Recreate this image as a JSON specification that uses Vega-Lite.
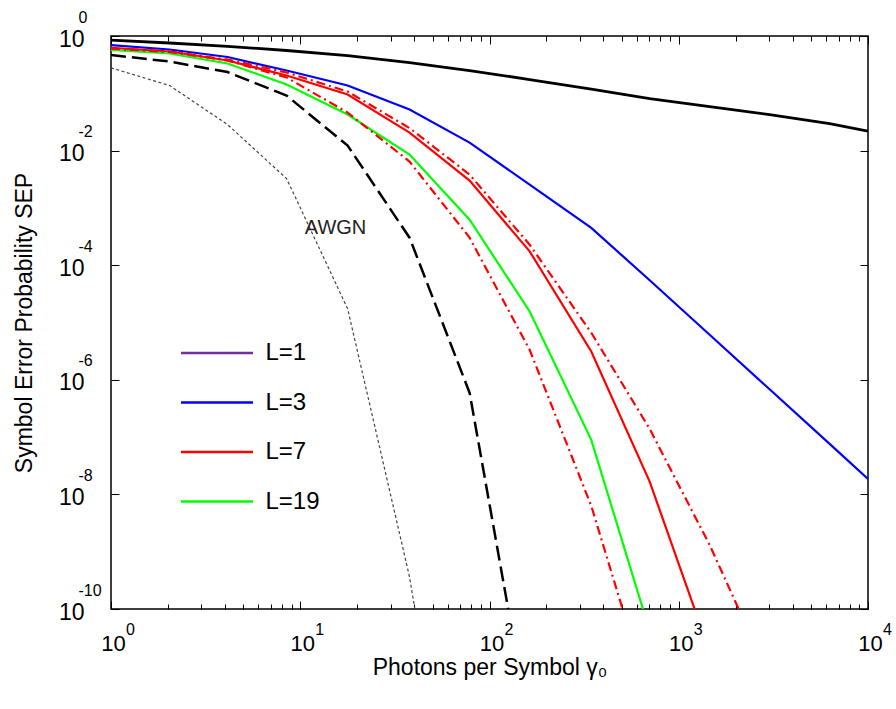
{
  "$schema": "https://vega.github.io/schema/vega-lite/v6.json",
  "width": 757,
  "height": 573,
  "autosize": "none",
  "padding": {"left": 111, "top": 36, "right": 28, "bottom": 100},
  "background": "white",
  "config": {
    "view": {"stroke": "#000", "strokeWidth": 1.5},
    "font": "Liberation Sans",
    "axis": {"grid": false, "domain": false, "tickColor": "#000", "tickWidth": 1, "labelColor": "#000", "labelFont": "Liberation Sans", "titleFont": "Liberation Sans", "titleFontWeight": "normal", "titleColor": "#000", "labelOverlap": false, "labelFlush": false, "labelBound": false}
  },
  "data": {"values": [
    {"curve": "L=1", "x": 1, "y": 0.845}, {"curve": "L=1", "x": 2.04, "y": 0.7545}, {"curve": "L=1", "x": 4.13, "y": 0.661}, {"curve": "L=1", "x": 8.47, "y": 0.558}, {"curve": "L=1", "x": 17.8, "y": 0.4564}, {"curve": "L=1", "x": 37.8, "y": 0.3444}, {"curve": "L=1", "x": 78.5, "y": 0.2496}, {"curve": "L=1", "x": 163, "y": 0.1739}, {"curve": "L=1", "x": 345, "y": 0.1187}, {"curve": "L=1", "x": 702, "y": 0.0809}, {"curve": "L=1", "x": 1456, "y": 0.0587}, {"curve": "L=1", "x": 3020, "y": 0.04254}, {"curve": "L=1", "x": 6270, "y": 0.02962}, {"curve": "L=1", "x": 10000, "y": 0.02191},
    {"curve": "L=3", "x": 1, "y": 0.6908}, {"curve": "L=3", "x": 2.04, "y": 0.5808}, {"curve": "L=3", "x": 4.13, "y": 0.4297}, {"curve": "L=3", "x": 8.47, "y": 0.2496}, {"curve": "L=3", "x": 17.8, "y": 0.1366}, {"curve": "L=3", "x": 37.8, "y": 0.05203}, {"curve": "L=3", "x": 78.5, "y": 0.01379}, {"curve": "L=3", "x": 163, "y": 0.002547}, {"curve": "L=3", "x": 345, "y": 0.0004466}, {"curve": "L=3", "x": 702, "y": 0.0000547}, {"curve": "L=3", "x": 1456, "y": 0.00000611}, {"curve": "L=3", "x": 3020, "y": 6.83e-7}, {"curve": "L=3", "x": 6270, "y": 7.62e-8}, {"curve": "L=3", "x": 10000, "y": 1.866e-8},
    {"curve": "L=7", "x": 1, "y": 0.6221}, {"curve": "L=7", "x": 2.04, "y": 0.5362}, {"curve": "L=7", "x": 4.13, "y": 0.3733}, {"curve": "L=7", "x": 8.47, "y": 0.2042}, {"curve": "L=7", "x": 17.8, "y": 0.0951}, {"curve": "L=7", "x": 37.8, "y": 0.02063}, {"curve": "L=7", "x": 78.5, "y": 0.002992}, {"curve": "L=7", "x": 163, "y": 0.0001742}, {"curve": "L=7", "x": 345, "y": 0.00000312}, {"curve": "L=7", "x": 702, "y": 1.673e-8}, {"curve": "L=7", "x": 1456, "y": 1.81e-11},
    {"curve": "L=7 dash-dot A", "x": 1, "y": 0.6046}, {"curve": "L=7 dash-dot A", "x": 2.04, "y": 0.536}, {"curve": "L=7 dash-dot A", "x": 4.13, "y": 0.3886}, {"curve": "L=7 dash-dot A", "x": 8.47, "y": 0.2304}, {"curve": "L=7 dash-dot A", "x": 17.8, "y": 0.1073}, {"curve": "L=7 dash-dot A", "x": 37.8, "y": 0.02472}, {"curve": "L=7 dash-dot A", "x": 78.5, "y": 0.003808}, {"curve": "L=7 dash-dot A", "x": 163, "y": 0.0002281}, {"curve": "L=7 dash-dot A", "x": 345, "y": 0.00000662}, {"curve": "L=7 dash-dot A", "x": 702, "y": 1.393e-7}, {"curve": "L=7 dash-dot A", "x": 1456, "y": 1.312e-9}, {"curve": "L=7 dash-dot A", "x": 3020, "y": 6.49e-12},
    {"curve": "L=7 dash-dot B", "x": 1, "y": 0.6046}, {"curve": "L=7 dash-dot B", "x": 2.04, "y": 0.5255}, {"curve": "L=7 dash-dot B", "x": 4.13, "y": 0.3733}, {"curve": "L=7 dash-dot B", "x": 8.47, "y": 0.1884}, {"curve": "L=7 dash-dot B", "x": 17.8, "y": 0.04611}, {"curve": "L=7 dash-dot B", "x": 37.8, "y": 0.006425}, {"curve": "L=7 dash-dot B", "x": 78.5, "y": 0.0003022}, {"curve": "L=7 dash-dot B", "x": 163, "y": 0.00000334}, {"curve": "L=7 dash-dot B", "x": 345, "y": 6.29e-9}, {"curve": "L=7 dash-dot B", "x": 702, "y": 2.79e-12},
    {"curve": "L=19", "x": 1, "y": 0.5692}, {"curve": "L=19", "x": 2.04, "y": 0.4946}, {"curve": "L=19", "x": 4.13, "y": 0.3309}, {"curve": "L=19", "x": 8.47, "y": 0.1422}, {"curve": "L=19", "x": 17.8, "y": 0.04254}, {"curve": "L=19", "x": 37.8, "y": 0.008515}, {"curve": "L=19", "x": 78.5, "y": 0.000623}, {"curve": "L=19", "x": 163, "y": 0.0000156}, {"curve": "L=19", "x": 345, "y": 8.95e-8}, {"curve": "L=19", "x": 702, "y": 4.13e-11},
    {"curve": "dashed", "x": 1, "y": 0.4657}, {"curve": "dashed", "x": 2.04, "y": 0.3585}, {"curve": "dashed", "x": 4.13, "y": 0.235}, {"curve": "dashed", "x": 8.47, "y": 0.09134}, {"curve": "dashed", "x": 17.8, "y": 0.01223}, {"curve": "dashed", "x": 37.8, "y": 0.0003022}, {"curve": "dashed", "x": 78.5, "y": 5.93e-7}, {"curve": "dashed", "x": 163, "y": 8e-13},
    {"curve": "AWGN", "x": 1, "y": 0.2782}, {"curve": "AWGN", "x": 2.04, "y": 0.1366}, {"curve": "AWGN", "x": 4.13, "y": 0.02845}, {"curve": "AWGN", "x": 8.47, "y": 0.003243}, {"curve": "AWGN", "x": 17.8, "y": 0.00001738}, {"curve": "AWGN", "x": 37.8, "y": 3.62e-10}, {"curve": "AWGN", "x": 78.5, "y": 1.7e-16}
  ]},
  "layer": [
    {
      "transform": [{"filter": {"field": "curve", "oneOf": ["L=1", "L=3", "L=7", "L=19"]}}],
      "mark": {"type": "line", "clip": true},
      "encoding": {
        "x": {"field": "x", "type": "quantitative", "scale": {"type": "log", "domain": [1, 10000], "nice": false},
          "axis": {"orient": "bottom", "values": [1,2,3,4,5,6,7,8,9,10,20,30,40,50,60,70,80,90,100,200,300,400,500,600,700,800,900,1000,2000,3000,4000,5000,6000,7000,8000,9000,10000],
            "labels": false, "tickSize": {"condition": {"test": "indexof([1,10,100,1000,10000], datum.value) >= 0", "value": -8}, "value": -5},
            "title": "Photons per Symbol γ₀", "titleFontSize": 23, "titleY": 65, "titleBaseline": "alphabetic"}},
        "y": {"field": "y", "type": "quantitative", "scale": {"type": "log", "domain": [1e-10, 1], "nice": false},
          "axis": {"orient": "left", "values": [1e-10, 1e-8, 1e-6, 1e-4, 1e-2, 1], "labels": false, "tickSize": -8,
            "title": "Symbol Error Probability SEP", "titleFontSize": 23, "titleX": -80, "titleBaseline": "alphabetic"}},
        "stroke": {"field": "curve", "type": "nominal",
          "scale": {"domain": ["L=1", "L=3", "L=7", "L=19", "L=7 dash-dot A", "L=7 dash-dot B", "dashed", "AWGN"], "range": ["#000000", "#0000ff", "#ff0000", "#00ff00", "#ff0000", "#ff0000", "#000000", "#444444"]},
          "legend": null},
        "strokeWidth": {"condition": {"test": "datum.curve == 'L=1'", "value": 2.8}, "value": 2.2}
      }
    },
    {
      "transform": [{"filter": {"field": "curve", "oneOf": ["L=7 dash-dot A", "L=7 dash-dot B"]}}],
      "mark": {"type": "line", "stroke": "#ff0000", "strokeWidth": 2.2, "strokeDash": [9, 4, 2, 4], "clip": true},
      "encoding": {
        "x": {"field": "x", "type": "quantitative", "scale": {"type": "log", "domain": [1, 10000], "nice": false},
          "axis": {"orient": "bottom", "values": [1, 10, 100, 1000, 10000], "ticks": false, "labelExpr": "'10'", "labelFontSize": 22, "labelBaseline": "middle", "labelPadding": 34, "labelOffset": 2, "title": null}},
        "y": {"field": "y", "type": "quantitative", "scale": {"type": "log", "domain": [1e-10, 1], "nice": false},
          "axis": {"orient": "left", "values": [1e-10, 1e-8, 1e-6, 1e-4, 1e-2, 1], "ticks": false, "labelExpr": "'10'", "labelFontSize": 23, "labelAlign": "right", "labelBaseline": "middle", "labelPadding": 27, "labelOffset": 3, "title": null}},
        "detail": {"field": "curve", "type": "nominal"}
      }
    },
    {
      "transform": [{"filter": {"field": "curve", "equal": "dashed"}}],
      "mark": {"type": "line", "stroke": "#000000", "strokeWidth": 2.5, "strokeDash": [15, 6], "clip": true},
      "encoding": {
        "x": {"field": "x", "type": "quantitative", "scale": {"type": "log", "domain": [1, 10000], "nice": false},
          "axis": {"orient": "bottom", "values": [1, 10, 100, 1000, 10000], "ticks": false, "labelExpr": "'' + round(log(datum.value) / LN10)", "labelFontSize": 16, "labelBaseline": "middle", "labelPadding": 20, "labelOffset": 19, "title": null}},
        "y": {"field": "y", "type": "quantitative", "scale": {"type": "log", "domain": [1e-10, 1], "nice": false},
          "axis": {"orient": "left", "values": [1e-10, 1e-8, 1e-6, 1e-4, 1e-2, 1], "ticks": false, "labelExpr": "'' + round(log(datum.value) / LN10)", "labelFontSize": 16, "labelAlign": "left", "labelBaseline": "middle", "labelPadding": 33, "labelOffset": -19, "title": null}}
      }
    },
    {
      "transform": [{"filter": {"field": "curve", "equal": "AWGN"}}],
      "mark": {"type": "line", "stroke": "#444444", "strokeWidth": 1.2, "strokeDash": [3, 2.5], "clip": true},
      "encoding": {
        "x": {"field": "x", "type": "quantitative", "scale": {"type": "log", "domain": [1, 10000], "nice": false},
          "axis": {"orient": "top", "values": [1,2,3,4,5,6,7,8,9,10,20,30,40,50,60,70,80,90,100,200,300,400,500,600,700,800,900,1000,2000,3000,4000,5000,6000,7000,8000,9000,10000],
            "labels": false, "tickSize": {"condition": {"test": "indexof([1,10,100,1000,10000], datum.value) >= 0", "value": -8}, "value": -5}, "title": null}},
        "y": {"field": "y", "type": "quantitative", "scale": {"type": "log", "domain": [1e-10, 1], "nice": false},
          "axis": {"orient": "right", "values": [1e-10, 1e-8, 1e-6, 1e-4, 1e-2, 1], "labels": false, "tickSize": -8, "title": null}}
      }
    },
    {
      "data": {"values": [{"label": "AWGN", "x": 15.37, "y": 0.000452}]},
      "mark": {"type": "text", "font": "Liberation Sans", "fontSize": 20, "color": "#222222", "align": "center", "baseline": "middle"},
      "encoding": {
        "x": {"field": "x", "type": "quantitative", "scale": {"type": "log", "domain": [1, 10000], "nice": false}, "axis": null},
        "y": {"field": "y", "type": "quantitative", "scale": {"type": "log", "domain": [1e-10, 1], "nice": false}, "axis": null},
        "text": {"field": "label", "type": "nominal"}
      }
    },
    {
      "transform": [{"filter": "false"}],
      "mark": {"type": "point"},
      "encoding": {
        "color": {"field": "curve", "type": "nominal",
          "scale": {"domain": ["L=1", "L=3", "L=7", "L=19"], "range": ["#7030a0", "#0000ff", "#ff0000", "#00ff00"]},
          "legend": {"orient": "none", "legendX": 68.5, "legendY": 302, "title": null, "padding": 0, "symbolType": "stroke", "symbolSize": 5184, "symbolStrokeWidth": 2.5, "symbolOpacity": 1, "labelFont": "Liberation Sans", "labelFontSize": 24, "labelColor": "#000", "labelOffset": 11, "labelBaseline": "middle", "clipHeight": 30, "rowPadding": 19.5}}
      }
    }
  ],
  "resolve": {"axis": {"x": "independent", "y": "independent"}}
}
